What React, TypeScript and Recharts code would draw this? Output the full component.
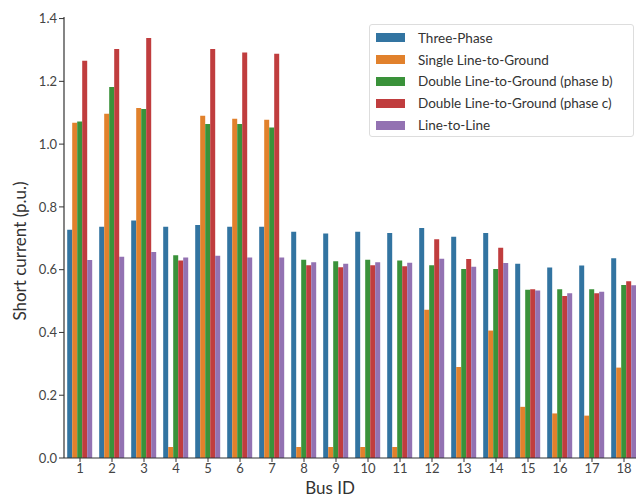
import React from 'react';
import { BarChart, Bar, XAxis, YAxis, Label } from 'recharts';

// Bus IDs on the x axis
const busIds = ['1', '2', '3', '4', '5', '6', '7', '8', '9', '10', '11', '12', '13', '14', '15', '16', '17', '18'];

// Short-circuit currents (p.u.) per fault type
const threePhase = [0.727, 0.737, 0.757, 0.737, 0.742, 0.737, 0.737, 0.721, 0.715, 0.721, 0.717, 0.733, 0.705, 0.717, 0.619, 0.607, 0.613, 0.636];
const singleLineToGround = [1.068, 1.097, 1.115, 0.035, 1.09, 1.081, 1.078, 0.035, 0.035, 0.035, 0.035, 0.472, 0.29, 0.406, 0.163, 0.142, 0.135, 0.288];
const doubleLineToGroundB = [1.072, 1.182, 1.112, 0.646, 1.064, 1.064, 1.053, 0.632, 0.627, 0.632, 0.629, 0.614, 0.602, 0.602, 0.536, 0.538, 0.538, 0.551];
const doubleLineToGroundC = [1.266, 1.303, 1.338, 0.629, 1.303, 1.292, 1.288, 0.614, 0.608, 0.614, 0.611, 0.697, 0.634, 0.67, 0.538, 0.516, 0.525, 0.563];
const lineToLine = [0.631, 0.641, 0.656, 0.639, 0.644, 0.639, 0.639, 0.624, 0.619, 0.624, 0.622, 0.635, 0.609, 0.621, 0.534, 0.525, 0.53, 0.55];

const yTicks = [0, 0.2, 0.4, 0.6, 0.8, 1.0, 1.2, 1.4];

const series = [
    { key: 'threePhase', name: 'Three-Phase', color: '#3274A1' },
    { key: 'slg', name: 'Single Line-to-Ground', color: '#E1812C' },
    { key: 'dlgB', name: 'Double Line-to-Ground (phase b)', color: '#3A923A' },
    { key: 'dlgC', name: 'Double Line-to-Ground (phase c)', color: '#C03D3E' },
    { key: 'll', name: 'Line-to-Line', color: '#9372B2' },
];

const data = busIds.map((bus, i) => ({
    bus,
    threePhase: threePhase[i],
    slg: singleLineToGround[i],
    dlgB: doubleLineToGroundB[i],
    dlgC: doubleLineToGroundC[i],
    ll: lineToLine[i],
}));

const FONT = 'Lato, "DejaVu Sans", sans-serif';
const AXIS = '#333';

// --- Legend box in the upper right (overlaid, so it doesn't shrink the plot) ---
const LegendBox = () => (
    <div
        style={{
            position: 'absolute',
            left: 369,
            top: 24,
            width: 265,
            height: 113,
            border: '1px solid #ddd',
            borderRadius: 3,
            background: 'rgba(255,255,255,0.85)',
            boxSizing: 'border-box',
            paddingTop: 2,
            fontFamily: FONT,
            fontSize: 13.5,
            color: '#333',
        }}
    >
        {series.map((s) => (
            <div key={s.key} style={{ display: 'flex', alignItems: 'center', height: 21.8 }}>
                <div style={{ width: 29, height: 9, marginLeft: 6, background: s.color }} />
                <span style={{ marginLeft: 13 }}>{s.name}</span>
            </div>
        ))}
    </div>
);

const App = () => {
    return (
        <div
            style={{
                position: 'fixed',
                left: 0,
                top: 0,
                width: 636,
                height: 497,
                overflow: 'hidden',
                background: '#fff',
            }}
        >
            <BarChart
                width={640}
                height={497}
                data={data}
                margin={{ top: 17, right: 0, bottom: 0, left: 0 }}
                barCategoryGap="10%"
                barGap={0}
            >
                <XAxis
                    dataKey="bus"
                    height={39}
                    interval={0}
                    tickSize={4}
                    tickMargin={2}
                    axisLine={{ stroke: AXIS, strokeWidth: 1.2 }}
                    tickLine={{ stroke: AXIS }}
                    tick={{ fill: '#444', fontSize: 13, fontFamily: FONT }}
                >
                    <Label
                        content={() => (
                            <text x={330} y={494} textAnchor="middle" fontSize={17} fontFamily={FONT} fill="#333">
                                Bus ID
                            </text>
                        )}
                    />
                </XAxis>
                <YAxis
                    width={64}
                    domain={[0, 1.405]}
                    ticks={yTicks}
                    allowDataOverflow
                    tickFormatter={(v: number) => v.toFixed(1)}
                    tickSize={5}
                    tickMargin={2}
                    axisLine={{ stroke: AXIS, strokeWidth: 1.2 }}
                    tickLine={{ stroke: AXIS }}
                    tick={{ fill: '#444', fontSize: 13, fontFamily: FONT }}
                >
                    <Label
                        content={() => (
                            <text
                                x={26}
                                y={251}
                                transform="rotate(-90 26 251)"
                                textAnchor="middle"
                                fontSize={17}
                                fontFamily={FONT}
                                fill="#333"
                            >
                                Short current (p.u.)
                            </text>
                        )}
                    />
                </YAxis>
                {series.map((s) => (
                    <Bar key={s.key} dataKey={s.key} name={s.name} fill={s.color} isAnimationActive={false} />
                ))}
            </BarChart>
            <LegendBox />
        </div>
    );
};

export default App;
